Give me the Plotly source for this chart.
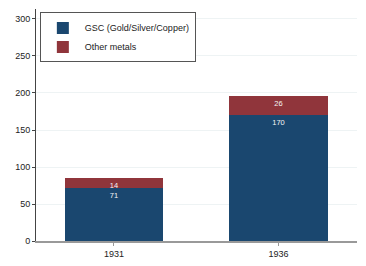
import plotly.graph_objects as go

years = ["1931", "1936"]
gsc = [71, 170]
other = [14, 26]
y_ticks = [0, 50, 100, 150, 200, 250, 300]

navy = "#1a476f"
maroon = "#90353b"

fig = go.Figure()
fig.add_trace(go.Bar(
    x=years, y=gsc, name="GSC (Gold/Silver/Copper)",
    marker=dict(color=navy, line=dict(width=0)),
    text=[str(v) for v in gsc], textposition="inside", insidetextanchor="end",
    textangle=0, constraintext="none",
    textfont=dict(color="#f4f4f4", size=7.5, family="Liberation Sans"),
    width=0.6,
))
fig.add_trace(go.Bar(
    x=years, y=other, name="Other metals",
    marker=dict(color=maroon, line=dict(width=0)),
    text=[str(v) for v in other], textposition="inside", insidetextanchor="end",
    textangle=0, constraintext="none",
    textfont=dict(color="#f4f4f4", size=7.5, family="Liberation Sans"),
    width=0.6,
))

fig.update_layout(
    template="none",
    barmode="stack",
    width=366, height=266,
    margin=dict(l=36, r=9, t=9, b=25, pad=0),
    paper_bgcolor="white", plot_bgcolor="white",
    font=dict(family="Liberation Sans", size=9, color="#222222"),
    showlegend=True,
    legend=dict(
        x=0.012, y=0.985, xanchor="left", yanchor="top",
        bordercolor="#555555", borderwidth=1, bgcolor="white",
        font=dict(size=9), tracegroupgap=0, itemwidth=34,
        traceorder="normal",
    ),
    uniformtext=dict(minsize=6, mode="show"),
)
fig.update_xaxes(
    type="category", range=[-0.474, 1.477], automargin=False,
    showgrid=False, showline=True, linecolor="#999999", linewidth=2,
    ticks="outside", ticklen=3, tickcolor="#999999",
    tickfont=dict(size=9), zeroline=False,
)
fig.update_yaxes(
    range=[0, 313.5], tickvals=y_ticks, automargin=False,
    showgrid=True, gridcolor="#eef3f4", gridwidth=1,
    showline=True, linecolor="#444444", linewidth=1,
    ticks="outside", ticklen=3, tickcolor="#444444",
    tickfont=dict(size=9), zeroline=False,
)

fig.write_html(
    "out.html",
    config={"displayModeBar": False},
    post_script="document.body.style.margin='0';document.body.style.overflow='hidden';",
)
